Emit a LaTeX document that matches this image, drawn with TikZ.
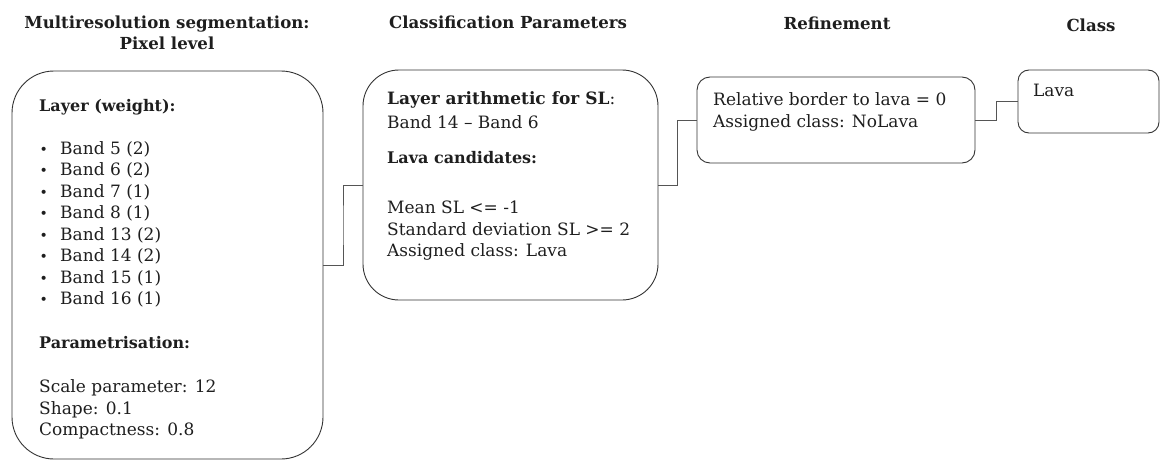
\documentclass[tikz,border=0pt]{standalone}
\usepackage{fontspec}
\setmainfont{DejaVu Serif}
\usetikzlibrary{calc}
\definecolor{txt}{HTML}{1E1E1E}
\definecolor{boxline}{HTML}{333333}
\definecolor{conn}{HTML}{555555}
\tikzset{
  stagebox/.style={draw=boxline, line width=0.9pt, inner sep=0pt, fill=none},
  ttl/.style={font=\fontsize{16.6}{19}\selectfont\bfseries, text=txt, anchor=base, inner sep=0pt},
  ln/.style={font=\fontsize{17}{20}\selectfont, text=txt, anchor=base west, inner sep=0pt},
  lnb/.style={ln, font=\fontsize{16}{20}\selectfont\bfseries},
  bul/.style={font=\fontsize{14}{20}\selectfont, text=txt, anchor=base west, inner sep=0pt},
  link/.style={draw=conn, line width=0.9pt}
}
\begin{document}
\begin{tikzpicture}[x=1pt,y=-1pt]
\useasboundingbox (0,0) rectangle (1160,460);
% titles
\node[ttl] (t1a) at (167,28.3) {Multiresolution segmentation:};
\node[ttl] (t1b) at (167,49.3) {Pixel level};
\node[ttl] (t2) at (508,28.3) {Classification Parameters};
\node[ttl] (t3) at (837,29.3) {Refinement};
\node[ttl] (t4) at (1091,31.7) {Class};
% boxes
\node[stagebox, rounded corners=42pt, minimum width=311pt, minimum height=388pt] (b1) at (167.5,265) {};
\node[stagebox, rounded corners=36pt, minimum width=295pt, minimum height=230pt] (b2) at (510.5,185) {};
\node[stagebox, rounded corners=13pt, minimum width=278pt, minimum height=86pt] (b3) at (836,120) {};
\node[stagebox, rounded corners=11pt, minimum width=141pt, minimum height=63pt] (b4) at (1088.5,101.5) {};
% box 1 text
\node[lnb] (l1) at (39,111) {Layer (weight):};
\foreach \i/\t in {0/Band 5 (2),1/Band 6 (2),2/Band 7 (1),3/Band 8 (1),4/Band 13 (2),5/Band 14 (2),6/Band 15 (1),7/Band 16 (1)}{
  \node[bul] (bu\i) at (39.5,154+21.5*\i) {•};
  \node[ln] (bt\i) at (60,154+21.5*\i) {\t};
}
\node[lnb] (p1) at (39,348.3) {Parametrisation:};
\node[ln] (p2) at (39,392.3) {Scale parameter: 12};
\node[ln] (p3) at (39,414) {Shape: 0.1};
\node[ln] (p4) at (39,435.3) {Compactness: 0.8};
% box 2 text
\node[ln] (c1) at (387,105) {\textbf{Layer arithmetic for SL}:};
\node[ln] (c2) at (387,128.3) {Band 14 – Band 6};
\node[lnb] (c3) at (387,163.3) {Lava candidates:};
\node[ln] (c4) at (387,213.3) {Mean SL <= -1};
\node[ln] (c5) at (387,235) {Standard deviation SL >= 2};
\node[ln] (c6) at (387,256.7) {Assigned class: Lava};
% box 3 text
\node[ln] (r1) at (713,106) {Relative border to lava = 0};
\node[ln] (r2) at (713,127.7) {Assigned class: NoLava};
% box 4 text
\node[ln] (k1) at (1033,96.7) {Lava};
% connectors
\draw[link] (b1.east) -| ($(b1.east)!.5!(b2.west)$) |- (b2.west);
\draw[link] (b2.east) -| ($(b2.east)!.5!(b3.west)$) |- (b3.west);
\draw[link] (b3.east) -| ($(b3.east)!.5!(b4.west)$) |- (b4.west);
\end{tikzpicture}
\end{document}
